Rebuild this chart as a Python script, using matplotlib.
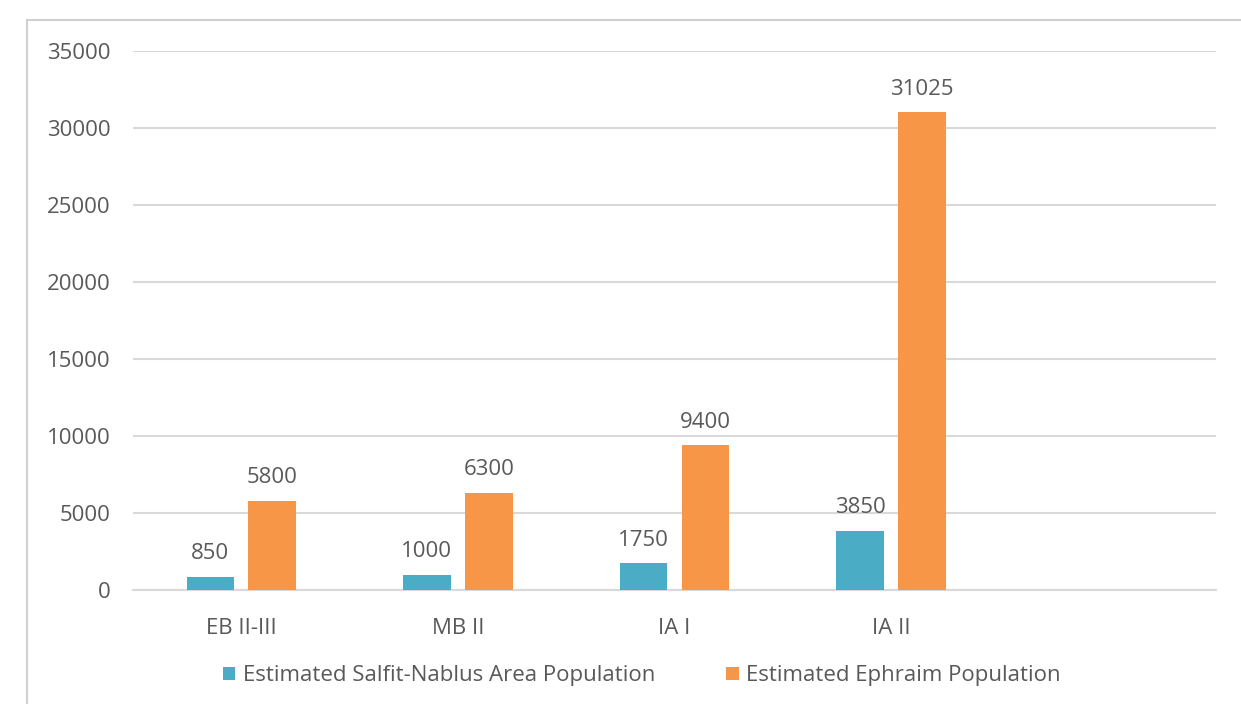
import matplotlib.pyplot as plt
import numpy as np
from matplotlib.patches import Rectangle

# datos del gráfico
periodos = ['EB II-III', 'MB II', 'IA I', 'IA II', '']
salfit_nablus = [850, 1000, 1750, 3850]
ephraim = [5800, 6300, 9400, 31025]

serie_salfit = 'Estimated Salfit-Nablus Area Population'
serie_ephraim = 'Estimated Ephraim Population'

color_salfit = '#4BACC6'
color_ephraim = '#F79646'
gris_texto = '#595959'
gris_lineas = '#D9D9D9'

plt.rcParams['font.family'] = ['Open Sans', 'DejaVu Sans']

fig = plt.figure(figsize=(12.41, 7.04), dpi=100)
ax = fig.add_axes([133 / 1241, 1 - 590 / 704, (1216 - 133) / 1241, (590 - 51) / 704])

# marco gris alrededor del gráfico
fig.patches.append(Rectangle((27 / 1241, -0.1), 1.2, 1 - 20 / 704 + 0.1,
                             transform=fig.transFigure, fill=False,
                             edgecolor='#D0D0D0', linewidth=1.5))

x = np.arange(len(salfit_nablus))
ancho = 0.22
desplaz = 0.143

barras1 = ax.bar(x - desplaz, salfit_nablus, ancho, color=color_salfit, label=serie_salfit, zorder=3)
barras2 = ax.bar(x + desplaz, ephraim, ancho, color=color_ephraim, label=serie_ephraim, zorder=3)

for barras in (barras1, barras2):
    for b in barras:
        ax.annotate(f'{int(b.get_height())}', (b.get_x() + b.get_width() / 2, b.get_height()),
                    xytext=(0, 9), textcoords='offset points', ha='center', va='bottom',
                    fontsize=16, color=gris_texto)

ax.set_xlim(-0.5, len(periodos) - 0.5)
ax.set_ylim(0, 35000)
ax.set_yticks(np.arange(0, 35001, 5000))
ax.set_xticks(np.arange(len(periodos)))
ax.set_xticklabels(periodos)
ax.tick_params(axis='both', length=0, labelsize=16, labelcolor=gris_texto)
ax.tick_params(axis='y', pad=16)
ax.tick_params(axis='x', pad=20)
ax.grid(axis='y', color=gris_lineas, linewidth=1.5, zorder=0)
for lado in ['top', 'right', 'left']:
    ax.spines[lado].set_visible(False)
ax.spines['bottom'].set_color(gris_lineas)
ax.spines['bottom'].set_linewidth(1.5)

fig.legend(handles=[barras1, barras2], loc='center', bbox_to_anchor=(642 / 1241, 1 - 676 / 704),
           ncol=2, frameon=False, fontsize=16, labelcolor=gris_texto,
           handlelength=0.55, handleheight=0.55, handletextpad=0.35, columnspacing=3.2)

plt.savefig('out.png', dpi=100)
